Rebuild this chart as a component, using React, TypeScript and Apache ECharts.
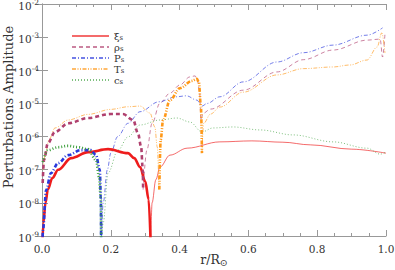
import React, { useEffect, useRef } from "react";
import * as echarts from "echarts";

// r / R_sun and log10(amplitude) pairs
const xiInner: number[][] = [[0.001,-9.3],[0.004,-8.6],[0.01,-8.0],[0.017,-7.6],[0.03,-7.25],[0.047,-7.0],[0.085,-6.65],[0.134,-6.47],[0.192,-6.38],[0.25,-6.5],[0.268,-6.65],[0.285,-6.92],[0.3,-7.35],[0.31,-7.9],[0.316,-9.3]];
const xiOuter: number[][] = [[0.316,-9.3],[0.32,-8.0],[0.331,-7.3],[0.343,-6.92],[0.372,-6.56],[0.422,-6.35],[0.517,-6.16],[0.61,-6.13],[0.70,-6.17],[0.78,-6.25],[0.90,-6.38],[1.0,-6.5]];
const rhoInner: number[][] = [[0.002,-7.4],[0.006,-6.7],[0.017,-6.2],[0.038,-5.86],[0.076,-5.6],[0.134,-5.44],[0.2,-5.32],[0.235,-5.32],[0.265,-5.5],[0.279,-5.9],[0.288,-6.3],[0.293,-7.0],[0.294,-7.6]];
const rhoOuter: number[][] = [[0.294,-7.6],[0.305,-6.4],[0.32,-5.6],[0.343,-4.99],[0.372,-4.69],[0.401,-4.44],[0.43,-4.2],[0.445,-4.17],[0.452,-4.3],[0.458,-4.65],[0.462,-5.5],[0.468,-5.3],[0.49,-5.17],[0.585,-4.6],[0.683,-4.05],[0.76,-3.68],[0.846,-3.39],[0.945,-3.09],[0.983,-3.06],[0.99,-3.6],[0.997,-2.9]];
const pInner: number[][] = [[0.001,-9.3],[0.003,-8.8],[0.012,-7.61],[0.026,-7.1],[0.047,-6.8],[0.076,-6.56],[0.113,-6.41],[0.142,-6.41],[0.157,-6.56],[0.168,-7.0],[0.171,-7.82],[0.172,-9.3]];
const pOuter: number[][] = [[0.172,-9.3],[0.178,-8.0],[0.19,-7.0],[0.2,-6.5],[0.22,-6.0],[0.25,-5.6],[0.285,-5.25],[0.34,-4.95],[0.39,-4.8],[0.42,-4.77],[0.45,-4.9],[0.465,-5.08],[0.48,-5.0],[0.517,-4.8],[0.585,-4.35],[0.683,-3.75],[0.76,-3.47],[0.846,-3.24],[0.945,-2.94],[0.99,-2.72]];
const tInner: number[][] = [[0.003,-7.0],[0.01,-6.5],[0.02,-6.1],[0.038,-5.74],[0.076,-5.5],[0.134,-5.33],[0.2,-5.18],[0.25,-5.1],[0.285,-5.08],[0.314,-5.29],[0.328,-5.71],[0.335,-6.31],[0.34,-7.6]];
const tMiddle: number[][] = [[0.341,-7.6],[0.345,-6.1],[0.352,-5.5],[0.372,-4.9],[0.401,-4.54],[0.436,-4.32],[0.45,-4.26],[0.456,-4.36],[0.462,-5.11],[0.465,-6.5]];
const tOuter: number[][] = [[0.465,-6.5],[0.47,-5.6],[0.49,-5.32],[0.517,-5.11],[0.585,-4.66],[0.683,-4.14],[0.76,-3.95],[0.846,-3.9],[0.895,-3.84],[0.945,-3.69],[0.974,-3.3],[0.988,-2.87],[0.997,-3.48]];
const csInner: number[][] = [[0.002,-6.77],[0.017,-6.41],[0.047,-6.32],[0.076,-6.28],[0.105,-6.32],[0.134,-6.38],[0.157,-6.71],[0.166,-7.22],[0.171,-7.91],[0.172,-9.3]];
const csOuter: number[][] = [[0.172,-9.3],[0.178,-8.6],[0.192,-7.1],[0.221,-6.41],[0.25,-6.01],[0.285,-5.65],[0.343,-5.5],[0.392,-5.44],[0.43,-5.56],[0.465,-5.86],[0.497,-5.74],[0.555,-5.71],[0.634,-5.8],[0.73,-5.95],[0.846,-6.16],[0.945,-6.35],[0.983,-6.53],[1.0,-6.47]];

const legendNames = ["ξs", "ρs", "Ps", "Ts", "cs"];
const xTicks = [0, 0.2, 0.4, 0.6, 0.8, 1.0];

const FONT = "DejaVu Serif";
const toPts = (arr: number[][]) => arr.map(([r, l]) => [r, Math.pow(10, l)]);

export default function App() {
  const ref = useRef<HTMLDivElement>(null);
  useEffect(() => {
    if (!ref.current) return;
    const chart = echarts.init(ref.current, undefined, { renderer: "svg" });
    const colors = ["#ee1c1c", "#b0406e", "#2838dc", "#ff9818", "#3a9e3a"];
    const dashes: any[] = ["solid", [4, 3], [4, 2, 1, 2], [4, 1.5, 1, 1.5, 1, 1.5], [1, 2]];
    const mk = (name: string, data: number[][], i: number, thick: boolean) => ({
      name,
      type: "line",
      data: toPts(data),
      showSymbol: false,
      symbol: "none",
      smooth: 0.35,
      smoothMonotone: "x",
      clip: true,
      lineStyle: {
        color: colors[i],
        width: thick ? 2.6 : 1,
        type: dashes[i],
        opacity: thick ? 1 : 0.65,
      },
      itemStyle: { color: colors[i] },
      z: thick ? 3 : 2,
    });
    const series = [
      mk(legendNames[0], xiOuter, 0, false),
      mk(legendNames[1], rhoOuter, 1, false),
      mk(legendNames[2], pOuter, 2, false),
      mk(legendNames[3], tOuter, 3, false),
      mk(legendNames[4], csOuter, 4, false),
      mk("ξ inner", xiInner, 0, true),
      mk("ρ inner", rhoInner, 1, true),
      mk("P inner", pInner, 2, true),
      mk("T inner", tInner, 3, false),
      mk("T middle", tMiddle, 3, true),
      mk("c inner", csInner, 4, true),
    ];
    const axisLine = { show: true, lineStyle: { color: "#999", width: 1 } };
    const xBase = {
      type: "value",
      min: 0,
      max: 1,
      interval: 0.2,
      axisLine,
      axisTick: { show: true, inside: true, length: 6, lineStyle: { color: "#999" } },
      minorTick: { show: true, splitNumber: 4, length: 3, lineStyle: { color: "#999" } },
      splitLine: { show: false },
      minorSplitLine: { show: false },
    };
    const yBase = {
      type: "log",
      logBase: 10,
      min: 1e-9,
      max: 1e-2,
      splitNumber: 7,
      axisLine,
      axisTick: { show: true, inside: true, length: 6, lineStyle: { color: "#999" } },
      splitLine: { show: false },
    };
    chart.setOption({
      animation: false,
      backgroundColor: "#fff",
      grid: { left: 42, right: 9, top: 4, bottom: 34, containLabel: false, outerBoundsMode: "none" },
      legend: {
        data: legendNames,
        orient: "vertical",
        left: 66,
        top: 25,
        itemWidth: 37,
        itemHeight: 8,
        itemGap: 0,
        itemStyle: { opacity: 0 },
        formatter: (n: string) => `{a|${n.slice(0, 1)}}{s|${n.slice(1)}}`,
        textStyle: {
          fontFamily: FONT,
          fontSize: 10,
          lineHeight: 10,
          color: "#333",
          rich: {
            a: { fontFamily: FONT, fontSize: 10, lineHeight: 10, color: "#333" },
            s: { fontFamily: FONT, fontSize: 7, lineHeight: 10, color: "#333", verticalAlign: "bottom", padding: [4, 0, 0, 0] },
          },
        },
      },
      xAxis: [
        {
          ...xBase,
          position: "bottom",
          name: "{a|r/R}{s|⊙}",
          nameLocation: "middle",
          nameGap: 16,
          nameMoveOverlap: false,
          nameTextStyle: {
            fontFamily: FONT,
            fontSize: 12,
            color: "#333",
            rich: {
              a: { fontFamily: FONT, fontSize: 12.5, color: "#333" },
              s: { fontFamily: FONT, fontSize: 9.5, color: "#333", padding: [5, 0, 0, 0] },
            },
          },
          axisLabel: {
            show: true,
            margin: 7,
            fontFamily: FONT,
            fontSize: 10.5,
            color: "#333",
            formatter: (v: number) => (xTicks.includes(v) ? v.toFixed(1) : ""),
          },
        },
        { ...xBase, position: "top", axisLabel: { show: false } },
      ],
      yAxis: [
        {
          ...yBase,
          position: "left",
          name: "Perturbations Amplitude",
          nameLocation: "middle",
          nameGap: 27,
          nameMoveOverlap: false,
          nameTextStyle: { fontFamily: FONT, fontSize: 13, color: "#333", padding: [0, 0, 0, 26] },
          axisLabel: {
            show: true,
            margin: 3,
            formatter: (v: number) => `{b|10}{e|${Math.round(Math.log10(v))}}`,
            rich: {
              b: { fontFamily: FONT, fontSize: 10.5, color: "#333", padding: [3, 0, 0, 0] },
              e: { fontFamily: FONT, fontSize: 7.5, color: "#333", padding: [0, 0, 3, 0] },
            },
          },
        },
        { ...yBase, position: "right", axisLabel: { show: false } },
      ],
      series,
    });
    return () => chart.dispose();
  }, []);
  return (
    <div
      ref={ref}
      style={{ position: "fixed", left: 0, top: 0, width: 395, height: 270 }}
    />
  );
}
